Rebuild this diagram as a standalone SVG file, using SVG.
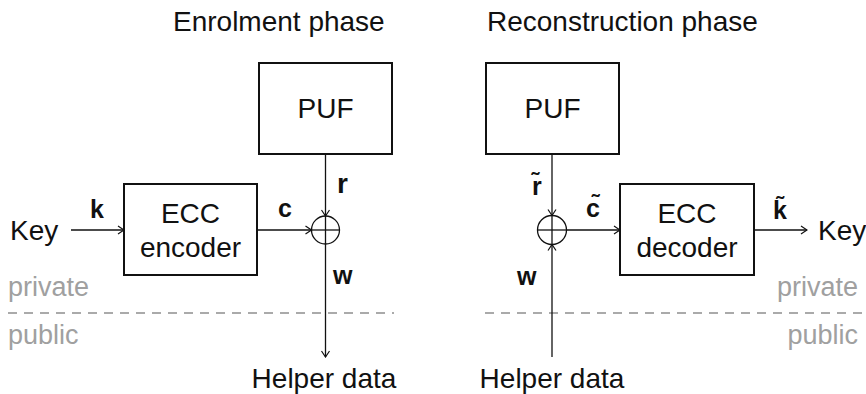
<svg xmlns="http://www.w3.org/2000/svg" width="866" height="394" viewBox="0 0 866 394">
<style>
text{font-family:"Liberation Sans",Arial,Helvetica,sans-serif;fill:#111}
.t{font-size:28px}
.c{text-anchor:middle}
.b{font-size:25px;font-weight:bold}
.g{fill:#a0a0a0;font-size:27px}
.box{fill:#fff;stroke:#111;stroke-width:2}
.ln{fill:none;stroke:#111;stroke-width:1.3}
.dash{stroke:#aaa;stroke-width:2;stroke-dasharray:9 7}
</style>
<defs>
<marker id="ah" markerWidth="8" markerHeight="10" refX="7" refY="5" orient="auto" markerUnits="userSpaceOnUse">
<path d="M1,1 L7,5 L1,9" fill="none" stroke="#111" stroke-width="1.2"/>
</marker>
</defs>
<rect width="866" height="394" fill="#fff"/>
<text class="t" x="173" y="31">Enrolment phase</text>
<text class="t" x="487" y="31">Reconstruction phase</text>
<line class="dash" x1="8" y1="313" x2="394" y2="313"/>
<line class="dash" x1="485" y1="313" x2="866" y2="313"/>
<text class="g" x="8" y="296">private</text>
<text class="g" x="8" y="344">public</text>
<text class="g" x="858" y="296" text-anchor="end">private</text>
<text class="g" x="858" y="344" text-anchor="end">public</text>
<g id="connectors">
<line class="ln" x1="71" y1="230" x2="124" y2="230" marker-end="url(#ah)"/>
<line class="ln" x1="257" y1="230" x2="311.5" y2="230" marker-end="url(#ah)"/>
<line class="ln" x1="325.5" y1="154" x2="325.5" y2="216" marker-end="url(#ah)"/>
<line class="ln" x1="325.5" y1="216" x2="325.5" y2="357" marker-end="url(#ah)"/>
<line class="ln" x1="552" y1="154" x2="552" y2="215.5" marker-end="url(#ah)"/>
<line class="ln" x1="552" y1="357" x2="552" y2="244.5" marker-end="url(#ah)"/>
<line class="ln" x1="566.5" y1="230" x2="620" y2="230" marker-end="url(#ah)"/>
<line class="ln" x1="754" y1="230" x2="807" y2="230" marker-end="url(#ah)"/>
</g>
<g id="key-in"><text class="t" x="10" y="240">Key</text></g>
<g id="key-out"><text class="t" x="818" y="240">Key</text></g>
<g id="puf-enrol">
<rect class="box" x="259" y="63" width="133" height="91"/>
<text class="t c" x="325.5" y="118">PUF</text>
</g>
<g id="ecc-encoder">
<rect class="box" x="124" y="184" width="133" height="91"/>
<text class="t c" x="190.5" y="223">ECC</text>
<text class="t c" x="190.5" y="257">encoder</text>
</g>
<g id="xor-enrol">
<circle class="ln" cx="325.5" cy="230" r="14"/>
<line class="ln" x1="311.5" y1="230" x2="339.5" y2="230"/>
</g>
<g id="puf-recon">
<rect class="box" x="486" y="63" width="133" height="91"/>
<text class="t c" x="552.5" y="118">PUF</text>
</g>
<g id="ecc-decoder">
<rect class="box" x="620" y="184" width="134" height="91"/>
<text class="t c" x="687" y="223">ECC</text>
<text class="t c" x="687" y="257">decoder</text>
</g>
<g id="xor-recon">
<circle class="ln" cx="552" cy="230" r="14.5"/>
<line class="ln" x1="537.5" y1="230" x2="566.5" y2="230"/>
<line class="ln" x1="552" y1="215.5" x2="552" y2="244.5"/>
</g>
<g id="labels">
<text class="b" x="90" y="218">k</text>
<text class="b" x="278" y="217">c</text>
<text class="b" x="337" y="193" style="font-size:28px">r</text>
<text class="b" x="333" y="284">w</text>
<text class="b" x="532" y="195">r̃</text>
<text class="b" x="517" y="285">w</text>
<text class="b" x="586" y="217">c̃</text>
<text class="b" x="773" y="219">k̃</text>
</g>
<g id="helper-enrol"><text class="t c" x="324" y="388">Helper data</text></g>
<g id="helper-recon"><text class="t c" x="552" y="388">Helper data</text></g>
</svg>
